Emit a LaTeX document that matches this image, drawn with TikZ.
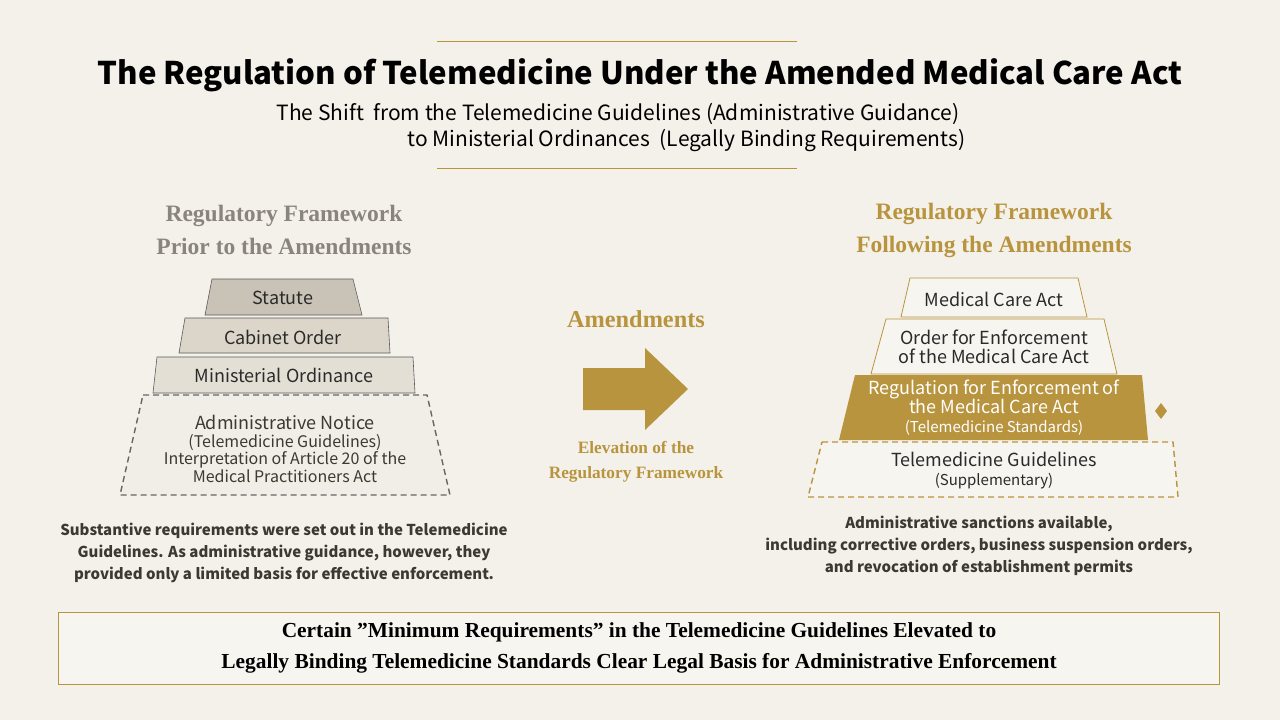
\documentclass[tikz,border=0pt]{standalone}
\usepackage{fontspec}
\setmainfont{Liberation Serif}
\newfontfamily\cjk{Noto Sans CJK JP}
\definecolor{bg}{HTML}{F4F1EA}
\definecolor{gold}{HTML}{B8943E}
\definecolor{grayt}{HTML}{8A847C}
\definecolor{ink}{HTML}{2A2A2A}
\definecolor{dark}{HTML}{3A3A30}
\definecolor{c1}{HTML}{C9C2B6}
\definecolor{c2}{HTML}{DCD6CA}
\definecolor{c3}{HTML}{E4DFD5}
\definecolor{c4}{HTML}{F1EEE7}
\definecolor{c5}{HTML}{F7F5F0}
\tikzset{
 lbl/.style={font=\cjk\fontsize{18}{19}\selectfont,text=ink,align=center,inner sep=0pt},
 head/.style={font=\bfseries\fontsize{23.5}{33}\selectfont,align=center},
 note/.style={font=\cjk\bfseries\fontsize{15}{22}\selectfont,text=dark,align=center},
 gline/.style={draw=gold,line width=1pt},
 dashb/.style={draw=gray!80!black,dash pattern=on 6pt off 4pt,line width=1.4pt},
}
\begin{document}
\begin{tikzpicture}[x=1pt,y=-1pt]
\fill[bg] (0,0) rectangle (1280,720);
\useasboundingbox (0,0) rectangle (1280,720);
\coordinate (l1a) at (437,41); \coordinate (l1b) at (797,41);
\coordinate (l2a) at (437,168); \coordinate (l2b) at (797,168);
\draw[gline] (l1a) -- (l1b);
\draw[gline] (l2a) -- (l2b);
\node[font=\cjk\bfseries\fontsize{31.2}{34}\selectfont,text=black] (title) at (640,75) {The Regulation of Telemedicine Under the Amended Medical Care Act};
\node[font=\cjk\fontsize{21}{26}\selectfont,text=black,align=left,anchor=north west] (sub) at (273,100) {The Shift\ \ from the Telemedicine Guidelines (Administrative Guidance)\\\hspace*{131pt}to Ministerial Ordinances\ \ (Legally Binding Requirements)};
% headings
\node[head,text=grayt] (hl) at (284,230) {Regulatory Framework\\Prior to the Amendments};
\node[head,text=gold] (hr) at (994,230) {Regulatory Framework\\Following the Amendments};
% left pyramid
\filldraw[fill=c1,draw=gray!70!black,line width=0.6pt] (212,279) -- (353,279) -- (362,315) -- (205,315) -- cycle;
\filldraw[fill=c2,draw=gray!70!black,line width=0.6pt] (185,318) -- (388,318) -- (390,353) -- (179,353) -- cycle;
\filldraw[fill=c3,draw=gray!70!black,line width=0.6pt] (157,357) -- (413,357) -- (415,393) -- (153,393) -- cycle;
\filldraw[fill=c4,dashb] (143,395) -- (427,395) -- (450,495) -- (120,495) -- cycle;
\node[lbl] (st) at (283,298) {Statute};
\node[lbl] (co) at (283,337) {Cabinet Order};
\node[lbl] (mo) at (284,375) {Ministerial Ordinance};
\node[lbl,text=dark,font=\cjk\fontsize{16}{17.5}\selectfont] (an) at (285,449) {{\fontsize{18}{19}\selectfont Administrative Notice}\\(Telemedicine Guidelines)\\Interpretation of Article 20 of the\\Medical Practitioners Act};
% right pyramid
\filldraw[fill=c5,draw=gold,line width=0.8pt] (910,278) -- (1078,278) -- (1087,317) -- (901,317) -- cycle;
\filldraw[fill=c5,draw=gold,line width=0.8pt] (886,319) -- (1104,319) -- (1117,374) -- (871,374) -- cycle;
\fill[gold] (855,375) -- (1142,375) -- (1148,440) -- (839,440) -- cycle;
\filldraw[fill=c5,dashb,draw=gold] (822,442) -- (1173,442) -- (1178,497) -- (808,497) -- cycle;
\fill[gold] (1161,403) -- (1167,411) -- (1161,419) -- (1155,411) -- cycle;
\node[lbl] (mca) at (994,299) {Medical Care Act};
\node[lbl] (oe) at (994,347) {Order for Enforcement\\of the Medical Care Act};
\node[lbl,text=white] (re) at (994,408) {Regulation for Enforcement of\\the Medical Care Act\\{\fontsize{15}{16}\selectfont(Telemedicine Standards)}};
\node[lbl] (tg) at (994,471) {Telemedicine Guidelines\\{\fontsize{15}{16}\selectfont(Supplementary)}};
% arrow
\fill[gold] (583,368) -- (645,368) -- (645,348) -- (688,389) -- (645,430) -- (645,410) -- (583,410) -- cycle;
\node[head,font=\bfseries\fontsize{24.3}{30}\selectfont,text=gold] (am) at (636,319) {Amendments};
\node[font=\bfseries\fontsize{17.3}{25}\selectfont,text=gold,align=center] (el) at (636,462) {Elevation of the\\Regulatory Framework};
% notes
\node[note] (nl) at (284,553) {Substantive requirements were set out in the Telemedicine\\Guidelines. As administrative guidance, however, they\\provided only a limited basis for effective enforcement.};
\node[note] (nr) at (979,546) {Administrative sanctions available,\\including corrective orders, business suspension orders,\\and revocation of establishment permits};
% bottom box
\filldraw[fill=c5,draw=gold,line width=0.8pt] (58,612) rectangle (1219,684);
\node[font=\bfseries\fontsize{21.4}{31}\selectfont,text=black,align=center] (bt) at (639,648) {Certain \symbol{34}Minimum Requirements\symbol{34} in the Telemedicine Guidelines Elevated to\\Legally Binding Telemedicine Standards Clear Legal Basis for Administrative Enforcement};
\end{tikzpicture}
\end{document}
